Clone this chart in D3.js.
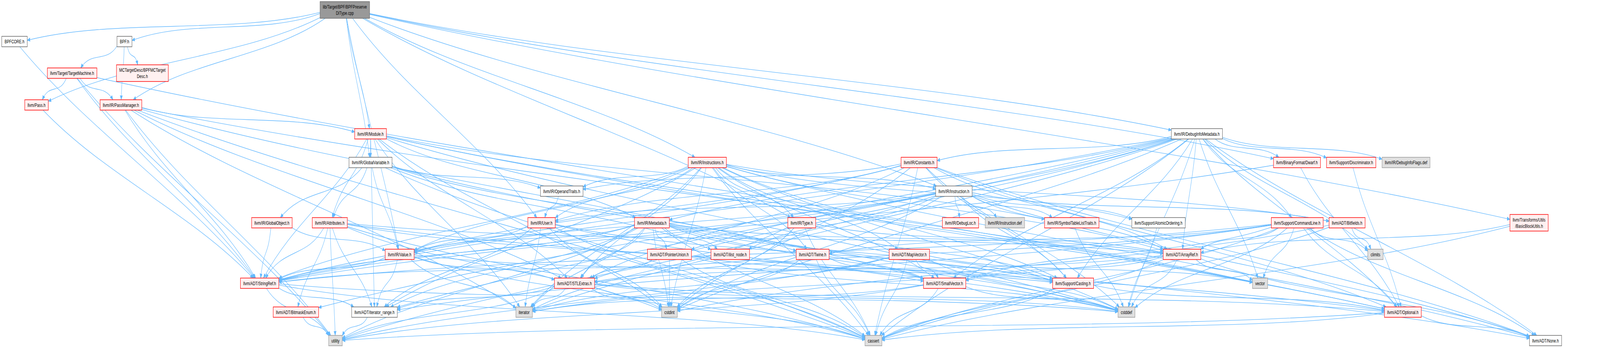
<!DOCTYPE html>
<html><head><meta charset="utf-8">
<script src="https://cdn.jsdelivr.net/npm/d3@7"></script>
<style>html,body{margin:0;padding:0;background:#fff;overflow:hidden;width:100%;height:100%;} svg{display:block;width:100vw;height:100vh}</style>
</head><body>
<svg id="chart" viewBox="0 0 6067 892" preserveAspectRatio="none"></svg>
<script>
// ---------- data ----------
const nodeIds = ["root","BPFCORE","BPF","TM","MCTD","Pass","PM","Module","DIM","GV","Insts","Const","Dwarf","Discr","DIFlags","OpTr","Inst","GO","Attr","User","MD","Type","DL","IDef","STLT","AO","CL","BF","BBU","Val","PU","IN","Tw","MV","AR","climits","SR","STLE","SV","Cast","vector","BE","IR","iter","cstdint","cstddef","Opt","util","cassert","None"];
const nodeLabels = ["lib/Target/BPF/BPFPreserve\nDIType.cpp","BPFCORE.h","BPF.h","llvm/Target/TargetMachine.h","MCTargetDesc/BPFMCTarget\nDesc.h","llvm/Pass.h","llvm/IR/PassManager.h","llvm/IR/Module.h","llvm/IR/DebugInfoMetadata.h","llvm/IR/GlobalVariable.h","llvm/IR/Instructions.h","llvm/IR/Constants.h","llvm/BinaryFormat/Dwarf.h","llvm/Support/Discriminator.h","llvm/IR/DebugInfoFlags.def","llvm/IR/OperandTraits.h","llvm/IR/Instruction.h","llvm/IR/GlobalObject.h","llvm/IR/Attributes.h","llvm/IR/User.h","llvm/IR/Metadata.h","llvm/IR/Type.h","llvm/IR/DebugLoc.h","llvm/IR/Instruction.def","llvm/IR/SymbolTableListTraits.h","llvm/Support/AtomicOrdering.h","llvm/Support/CommandLine.h","llvm/ADT/Bitfields.h","llvm/Transforms/Utils\n/BasicBlockUtils.h","llvm/IR/Value.h","llvm/ADT/PointerUnion.h","llvm/ADT/ilist_node.h","llvm/ADT/Twine.h","llvm/ADT/MapVector.h","llvm/ADT/ArrayRef.h","climits","llvm/ADT/StringRef.h","llvm/ADT/STLExtras.h","llvm/ADT/SmallVector.h","llvm/Support/Casting.h","vector","llvm/ADT/BitmaskEnum.h","llvm/ADT/iterator_range.h","iterator","cstdint","cstddef","llvm/ADT/Optional.h","utility","cassert","llvm/ADT/None.h"];
const nodeKinds = ["root","white","white","red","red","red","red","red","white","white","red","red","red","red","sys","white","white","red","red","red","red","red","red","sys","red","white","red","red","red","red","red","red","red","red","red","sys","red","red","red","red","sys","red","white","sys","sys","sys","red","sys","sys","white"];

const edges = [
 ["root","BPFCORE"],["root","BPF"],["root","Dwarf"],["root","DIM"],["root","GV"],["root","Inst"],["root","Insts"],["root","Module"],["root","PM"],["root","Type"],["root","User"],["root","Val"],["root","Pass"],["root","BBU"],
 ["BPFCORE","SR"],
 ["BPF","MCTD"],["BPF","PM"],["BPF","TM"],
 ["TM","Pass"],["TM","PM"],["TM","SR"],["TM","util"],["TM","Opt"],
 ["Pass","SR"],
 ["PM","Module"],["PM","STLE"],["PM","SV"],["PM","SR"],["PM","cassert"],["PM","iter"],["PM","util"],["PM","vector"],
 ["Module","Opt"],["Module","STLE"],["Module","SR"],["Module","IR"],["Module","Attr"],["Module","GV"],["Module","MD"],["Module","STLT"],["Module","cstddef"],["Module","cstdint"],["Module","iter"],["Module","vector"],
 ["DIM","AR"],["DIM","BE"],["DIM","None"],["DIM","Opt"],["DIM","PU"],["DIM","STLE"],["DIM","SV"],["DIM","SR"],["DIM","IR"],["DIM","Const"],["DIM","MD"],["DIM","Cast"],["DIM","CL"],["DIM","Discr"],["DIM","cassert"],["DIM","climits"],["DIM","cstddef"],["DIM","cstdint"],["DIM","iter"],["DIM","vector"],["DIM","DIFlags"],["DIM","Dwarf"],
 ["GV","Tw"],["GV","IN"],["GV","Attr"],["GV","GO"],["GV","OpTr"],["GV","Val"],["GV","cassert"],["GV","cstddef"],
 ["Insts","AR"],["Insts","BF"],["Insts","MV"],["Insts","None"],["Insts","STLE"],["Insts","SV"],["Insts","SR"],["Insts","Tw"],["Insts","IR"],["Insts","Inst"],["Insts","OpTr"],["Insts","Type"],["Insts","User"],["Insts","Val"],["Insts","AO"],["Insts","Cast"],["Insts","cassert"],["Insts","cstddef"],["Insts","cstdint"],["Insts","iter"],
 ["Const","AR"],["Const","None"],["Const","Opt"],["Const","STLE"],["Const","SR"],["Const","OpTr"],["Const","User"],["Const","Val"],["Const","Cast"],["Const","cassert"],["Const","cstddef"],["Const","cstdint"],
 ["Dwarf","Opt"],["Dwarf","SR"],
 ["Discr","Opt"],
 ["OpTr","User"],
 ["Inst","AR"],["Inst","BF"],["Inst","None"],["Inst","SR"],["Inst","IN"],["Inst","DL"],["Inst","STLT"],["Inst","User"],["Inst","Val"],["Inst","AO"],["Inst","Cast"],["Inst","cstdint"],["Inst","util"],["Inst","IDef"],
 ["GO","SR"],["GO","Val"],
 ["Attr","AR"],["Attr","BE"],["Attr","Opt"],["Attr","SV"],["Attr","SR"],["Attr","IR"],["Attr","cassert"],["Attr","cstdint"],["Attr","util"],
 ["User","IR"],["User","Val"],["User","Cast"],["User","cassert"],["User","cstddef"],["User","cstdint"],["User","iter"],
 ["MD","AR"],["MD","None"],["MD","PU"],["MD","STLE"],["MD","SV"],["MD","SR"],["MD","IN"],["MD","IR"],["MD","Val"],["MD","Cast"],["MD","cassert"],["MD","cstddef"],["MD","cstdint"],["MD","iter"],["MD","util"],
 ["Type","AR"],["Type","Cast"],["Type","cassert"],["Type","cstdint"],["Type","iter"],
 ["STLT","cstddef"],
 ["AO","cstddef"],
 ["CL","AR"],["CL","None"],["CL","Opt"],["CL","STLE"],["CL","SV"],["CL","SR"],["CL","Tw"],["CL","IR"],["CL","cassert"],["CL","climits"],["CL","cstddef"],["CL","vector"],
 ["BF","cassert"],["BF","climits"],["BF","cstdint"],
 ["BBU","AR"],["BBU","cassert"],
 ["Val","STLE"],["Val","SR"],["Val","IR"],["Val","Cast"],["Val","cassert"],["Val","iter"],
 ["PU","STLE"],["PU","Cast"],["PU","cassert"],["PU","cstddef"],["PU","cstdint"],
 ["Tw","SV"],["Tw","SR"],["Tw","cassert"],["Tw","cstdint"],
 ["MV","SV"],["MV","cassert"],["MV","cstddef"],["MV","iter"],["MV","util"],["MV","vector"],
 ["AR","None"],["AR","STLE"],["AR","SV"],["AR","cassert"],["AR","cstddef"],["AR","iter"],["AR","vector"],
 ["SR","IR"],["SR","cassert"],["SR","cstddef"],["SR","util"],
 ["STLE","Opt"],["STLE","IR"],["STLE","cassert"],["STLE","cstddef"],["STLE","cstdint"],["STLE","iter"],["STLE","util"],
 ["SV","cassert"],["SV","cstddef"],["SV","iter"],["SV","util"],
 ["Cast","Opt"],["Cast","cassert"],
 ["BE","util"],
 ["IR","util"],
 ["Opt","None"],["Opt","cassert"],["Opt","util"]
];

// ---------- layout ----------
const layoutX = [1307.5,55,472,273.5,540,138.5,458.5,1405,4538.5,1405,2682,3485,4918,5123.5,5331.5,2130,3617,1031,1250.5,2053.5,2472,3040,3642,3810.5,4064,4393,4919,5108,5798,1515.5,2538.5,2769,3081.5,3448,4482,5215.5,984.5,2178.5,3582,4069,4778,1122,1420,1987.5,2538.5,4271.5,5319.5,1272,3312,5860.5];
const layoutRank = [0,1,1,2,2,3,3,4,4,5,5,5,5,5,5,6,6,7,7,7,7,7,7,7,7,7,7,7,7,8,8,8,8,8,8,8,9,9,9,9,9,10,10,10,10,10,10,11,11,11];
const rankCenters = [25.5,106.5,187.5,269,343,416.5,490,571,652,726,800,873];

// ---------- styles ----------
const kindFill = {root:"#999999", white:"#ffffff", red:"#fff0f0", sys:"#e0e0e0"};
const kindStroke = {root:"#666666", white:"#666666", red:"#ff0000", sys:"#999999"};
const edgeColor = "#63b8ff";
const fontSize = 13.33;
const fontFamily = "'Liberation Sans', Arial, Helvetica, sans-serif";

const W = 6067, H = 892;
const x = d3.scaleLinear().domain([0, W]).range([0, W]);
const y = d3.scaleLinear().domain(d3.range(rankCenters.length)).range(rankCenters);

const svg = d3.select("#chart");
svg.append("rect").attr("width", W).attr("height", H).attr("fill", "#fff");

const defs = svg.append("defs");
defs.append("marker").attr("id", "arr")
  .attr("markerUnits", "userSpaceOnUse")
  .attr("markerWidth", 14).attr("markerHeight", 12)
  .attr("refX", 11).attr("refY", 4.5).attr("orient", "auto")
  .append("path").attr("d", "M0,0 L11,4.5 L0,9 Z")
  .attr("fill", edgeColor).attr("stroke", edgeColor).attr("stroke-width", 1);

const nodes = nodeIds.map((id, i) => ({
  id, label: nodeLabels[i], kind: nodeKinds[i],
  x: x(layoutX[i]), y: y(layoutRank[i]), lines: nodeLabels[i].split("\n")
}));
const byId = new Map(nodes.map(n => [n.id, n]));

// measure text
const meas = svg.append("text").attr("font-family", fontFamily).attr("font-size", fontSize);
nodes.forEach(n => {
  let w = 0;
  n.lines.forEach(l => { meas.text(l); w = Math.max(w, meas.node().getComputedTextLength()); });
  n.w = Math.max(38, w + 21.3);
  n.h = n.lines.length === 1 ? 26.7 : 42.7;
});
meas.remove();

function boxPoint(n, tx, ty) {
  const dx = tx - n.x, dy = ty - n.y;
  if (dx === 0 && dy === 0) return [n.x, n.y];
  const tX = dx !== 0 ? (n.w / 2) / Math.abs(dx) : Infinity;
  const tY = dy !== 0 ? (n.h / 2) / Math.abs(dy) : Infinity;
  const t = Math.min(tX, tY);
  return [n.x + dx * t, n.y + dy * t];
}

const gEdges = svg.append("g").attr("fill", "none").attr("stroke", edgeColor).attr("stroke-width", 1.33);
edges.forEach(([s, t]) => {
  const a = byId.get(s), b = byId.get(t);
  const p0 = boxPoint(a, b.x, b.y);
  const p3 = boxPoint(b, a.x, a.y);
  const dx = p3[0] - p0[0], dy = p3[1] - p0[1];
  const bend = Math.min(Math.abs(dy) * 0.5, 40);
  const p1 = [p0[0] + dx * 0.3, p0[1] + dy * 0.3 + bend];
  const p2 = [p3[0] - dx * 0.3, p3[1] - dy * 0.3 - bend];
  const path = d3.path();
  path.moveTo(p0[0], p0[1]);
  path.bezierCurveTo(p1[0], p1[1], p2[0], p2[1], p3[0], p3[1]);
  gEdges.append("path").attr("d", path.toString()).attr("marker-end", "url(#arr)");
});

const gNodes = svg.append("g");
const ng = gNodes.selectAll("g").data(nodes).join("g");
ng.append("rect")
  .attr("x", d => d.x - d.w / 2).attr("y", d => d.y - d.h / 2)
  .attr("width", d => d.w).attr("height", d => d.h)
  .attr("fill", d => kindFill[d.kind]).attr("stroke", d => kindStroke[d.kind]).attr("stroke-width", 1.5);
ng.each(function(d) {
  const t = d3.select(this).append("text")
    .attr("font-family", fontFamily)
    .attr("font-size", fontSize).attr("fill", "#000").attr("text-anchor", "middle");
  const n = d.lines.length;
  d.lines.forEach((l, i) => {
    t.append("tspan").attr("x", d.x).attr("y", d.y + (i - (n - 1) / 2) * 16 + 4.6).text(l);
  });
});
</script>
</body></html>
